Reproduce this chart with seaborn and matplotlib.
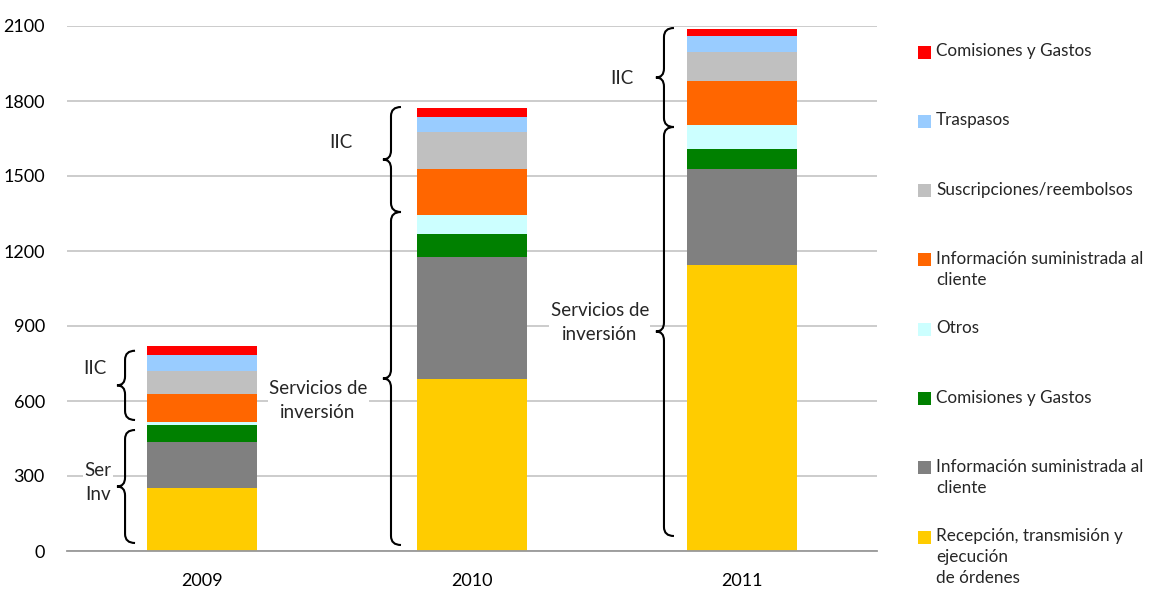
import matplotlib
matplotlib.use("Agg")
import matplotlib.pyplot as plt
import pandas as pd
import seaborn as sns
from matplotlib.path import Path
from matplotlib.patches import PathPatch, Rectangle

# 年份与各分项（自下而上）
years = ["2009", "2010", "2011"]
recepcion = [252, 688, 1144]
info_servicios = [184, 489, 384]
comisiones_servicios = [68, 91, 80]
otros = [13, 76, 96]
info_iic = [112, 184, 176]
suscripciones = [91, 149, 116]
traspasos = [64, 59, 64]
comisiones_iic = [37, 36, 28]

series_names = [
    "Recepción, transmisión y\nejecución\nde órdenes",
    "Información suministrada al\ncliente",
    "Comisiones y Gastos",
    "Otros",
    "Información suministrada al\ncliente",
    "Suscripciones/reembolsos",
    "Traspasos",
    "Comisiones y Gastos",
]
series_values = [recepcion, info_servicios, comisiones_servicios, otros,
                 info_iic, suscripciones, traspasos, comisiones_iic]
colors = ["#FFCC00", "#808080", "#008000", "#CCFFFF",
          "#FF6600", "#C0C0C0", "#99CCFF", "#FF0000"]

y_ticks = [0, 300, 600, 900, 1200, 1500, 1800, 2100]

# 花括号注释：(年份序号, 下端, 上端, 标签, 标签x偏移, 标签y)
braces = [
    (0, 524, 801, "IIC", -0.396, 732),
    (0, 32, 484, "Ser\nInv", -0.385, 272),
    (1, 1356, 1776, "IIC", -0.485, 1632),
    (1, 24, 1356, "Servicios de\ninversión", -0.570, 600),
    (2, 1696, 2092, "IIC", -0.444, 1892),
    (2, 60, 1696, "Servicios de\ninversión", -0.526, 912),
]
brace_x = [-0.248, -0.263, -0.252]

# 累计值（用于叠加绘制）
cum = []
running = [0, 0, 0]
for vals in series_values:
    running = [a + b for a, b in zip(running, vals)]
    cum.append(list(running))

sns.set_theme(style="white")
plt.rcParams["font.family"] = ["Lato", "DejaVu Sans"]

fig = plt.figure(figsize=(11.52, 5.92), dpi=100)
ax = fig.add_axes([67 / 1152, 1 - 551 / 592, 810 / 1152, 525 / 592])

# 从顶层往下画，底层覆盖上层
for i in range(len(series_values) - 1, -1, -1):
    df = pd.DataFrame({"year": years, "value": cum[i]})
    sns.barplot(data=df, x="year", y="value", color=colors[i], width=0.41,
                saturation=1, ax=ax, zorder=2, linewidth=0)

ax.set_xlim(-0.5, 2.5)
ax.set_ylim(0, 2100)
ax.set_yticks(y_ticks)
ax.set_xlabel("")
ax.set_ylabel("")
ax.tick_params(axis="both", labelsize=13, length=0, colors="black")
ax.tick_params(axis="y", pad=16)
ax.tick_params(axis="x", pad=16)
ax.grid(True, axis="y", color="#C8C8C8", linewidth=1.3, zorder=0)
ax.set_axisbelow(True)
for side in ["left", "right", "top"]:
    ax.spines[side].set_visible(False)
ax.spines["bottom"].set_color("#999999")
ax.spines["bottom"].set_linewidth(1.3)


def draw_brace(ax, xr, y0, y1):
    w = 0.067
    xm = xr - 0.037
    xt = xr - w
    ym = (y0 + y1) / 2
    r = min(36, (y1 - y0) / 6)
    verts = [
        (xr, y1), (xm, y1), (xm, y1 - r),
        (xm, ym + r),
        (xm, ym), (xt, ym),
        (xm, ym), (xm, ym - r),
        (xm, y0 + r),
        (xm, y0), (xr, y0),
    ]
    codes = [Path.MOVETO, Path.CURVE3, Path.CURVE3,
             Path.LINETO,
             Path.CURVE3, Path.CURVE3,
             Path.CURVE3, Path.CURVE3,
             Path.LINETO,
             Path.CURVE3, Path.CURVE3]
    ax.add_patch(PathPatch(Path(verts, codes), facecolor="none",
                           edgecolor="black", linewidth=1.5, zorder=3,
                           clip_on=False))


for idx, y0, y1, label, lx, ly in braces:
    draw_brace(ax, idx + brace_x[idx], y0, y1)
    ax.text(idx + lx, ly, label, ha="center", va="center", fontsize=13.5,
            linespacing=1.5, zorder=4,
            bbox=dict(facecolor="white", edgecolor="none", pad=1))

# 图例（手动，从上到下与堆叠顺序相反）
for k, i in enumerate(range(len(series_names) - 1, -1, -1)):
    y_px = 52 + k * 69.3
    fig.patches.append(Rectangle((918 / 1152, 1 - (y_px + 6.5) / 592),
                                 13 / 1152, 13 / 592,
                                 transform=fig.transFigure,
                                 facecolor=colors[i], edgecolor="none"))
    fig.text(936 / 1152, 1 - (y_px - 9) / 592, series_names[i],
             ha="left", va="top", fontsize=12.3, linespacing=1.4)

fig.savefig("out.png", dpi=100, facecolor="white")
